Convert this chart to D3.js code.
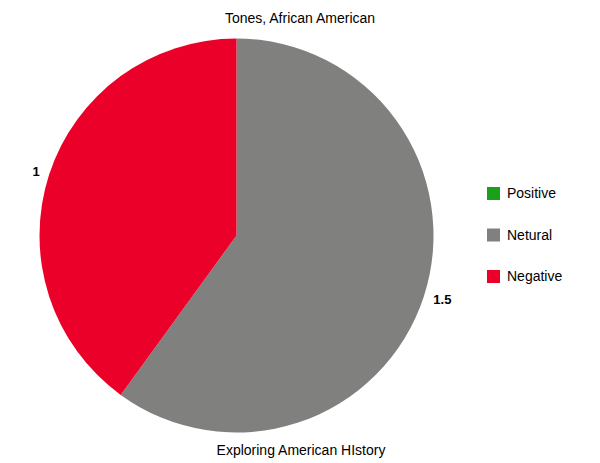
<!DOCTYPE html>
<html>
<head>
<meta charset="utf-8">
<script src="https://cdn.jsdelivr.net/npm/d3@7"></script>
<style>
  body { margin: 0; background: #fff; }
  text { font-family: "Liberation Sans", Arial, sans-serif; }
</style>
</head>
<body>
<div id="chart"></div>
<script>
let categories = ["Positive", "Netural", "Negative"];
let values = [0, 1.5, 1];
let colors = ["#1aa01a", "#80807f", "#eb0029"];

let width = 600, height = 463;
let cx = 236.5, cy = 235.5, radius = 197;

let svg = d3.select("#chart")
.append("svg")
.attr("width", width)
.attr("height", height);

let color = d3.scaleOrdinal().domain(categories).range(colors);

let pie = d3.pie()
.sort(null)
.value(function(d) { return d.value; });

let data = categories.map(function(c, i) { return {name: c, value: values[i]}; });

let arc = d3.arc().innerRadius(0).outerRadius(radius);
let labelArc = d3.arc().innerRadius(radius + 10).outerRadius(radius + 10);

let g = svg.append("g")
.attr("transform", "translate(" + cx + "," + cy + ")");

let arcs = pie(data).filter(function(d) { return d.value > 0; });

g.selectAll("path")
.data(arcs)
.enter().append("path")
.attr("d", arc)
.attr("fill", function(d) { return color(d.data.name); });

g.selectAll(".lbl")
.data(arcs)
.enter().append("text")
.attr("class", "lbl")
.attr("transform", function(d) { return "translate(" + labelArc.centroid(d) + ")"; })
.attr("text-anchor", function(d) { return (d.startAngle + d.endAngle) / 2 < Math.PI ? "start" : "end"; })
.attr("dy", "0.35em")
.style("font-size", "13px")
.style("font-weight", "bold")
.text(function(d) { return d.data.value; });

// titles
svg.append("text")
.attr("x", 300)
.attr("y", 23)
.attr("text-anchor", "middle")
.style("font-size", "14px")
.text("Tones, African American");

svg.append("text")
.attr("x", 301)
.attr("y", 455)
.attr("text-anchor", "middle")
.style("font-size", "14px")
.text("Exploring American HIstory");

// legend
let legend = svg.append("g")
.selectAll("g")
.data(categories)
.enter().append("g")
.attr("transform", function(d, i) { return "translate(487," + (187 + i * 41.5) + ")"; });

legend.append("rect")
.attr("width", 13)
.attr("height", 13)
.attr("fill", function(d) { return color(d); });

legend.append("text")
.attr("x", 20)
.attr("y", 6.5)
.attr("dy", "0.35em")
.style("font-size", "14px")
.text(function(d) { return d; });
</script>
</body>
</html>
